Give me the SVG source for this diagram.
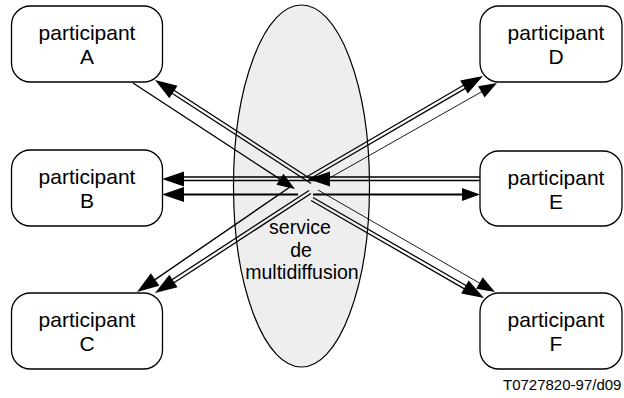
<svg xmlns="http://www.w3.org/2000/svg" xmlns:xlink="http://www.w3.org/1999/xlink" width="624" height="398" viewBox="0 0 624 398">
<style>
.box{fill:#fff;stroke:#000;stroke-width:1.3}
.lbl{font-family:"Liberation Sans",Arial,sans-serif;font-size:21px;fill:#000;text-anchor:middle}
.svc{font-family:"Liberation Sans",Arial,sans-serif;font-size:19.5px;fill:#000;text-anchor:middle}
.dbl{stroke:#000;stroke-width:1.3;fill:none}
.sgl{stroke:#000;stroke-width:1.4;fill:none}
.thk{stroke:#000;stroke-width:1.9;fill:none}
.thn{stroke:#000;stroke-width:0.9;fill:none}
</style>
<defs>
<path id="ah" d="M0,0 L-22,-7.5 L-22,7.5 Z" fill="#000"/>
<path id="ahs" d="M0,0 L-18,-6.5 L-18,6.5 Z" fill="#000"/>
</defs>
<rect width="624" height="398" fill="#fff"/>
<g id="service">
<ellipse cx="301.5" cy="186" rx="68" ry="181" fill="#eeeeee" stroke="#000" stroke-width="1.2"/>
<text class="svc" x="300" y="234">service</text>
<text class="svc" x="301" y="257">de</text>
<text class="svc" x="302" y="279">multidiffusion</text>
</g>
<g id="connectors">
<line class="dbl" x1="312.98" y1="180.49" x2="168.58" y2="86.69"/>
<line class="dbl" x1="311.02" y1="183.51" x2="166.62" y2="89.71"/>
<line class="dbl" x1="311.1" y1="200.56" x2="470.1" y2="292.08"/>
<line class="dbl" x1="312.9" y1="197.44" x2="471.9" y2="288.96"/>
<line class="dbl" x1="309.02" y1="190.49" x2="166.59" y2="283.3"/>
<line class="dbl" x1="310.98" y1="193.51" x2="168.55" y2="286.32"/>
<line class="dbl" x1="308.91" y1="179.56" x2="470.95" y2="85.11"/>
<line class="dbl" x1="307.09" y1="176.44" x2="469.13" y2="82"/>
<line class="dbl" x1="178" y1="177" x2="480" y2="177"/>
<line class="dbl" x1="178" y1="180.5" x2="480" y2="180.5"/>
<line class="sgl" x1="133" y1="83" x2="283" y2="181.2"/>
<line class="sgl" x1="290" y1="187" x2="148.5" y2="284.1"/>
<line class="thn" x1="326" y1="180" x2="484" y2="90.4"/>
<line class="thn" x1="318" y1="190" x2="482" y2="284.5"/>
<line class="thk" x1="298" y1="194.5" x2="175" y2="194.5"/>
<line class="thk" x1="313" y1="194.5" x2="468" y2="194.5"/>
<use xlink:href="#ah" transform="translate(155,80) rotate(213)"/>
<use xlink:href="#ahs" transform="translate(295,189) rotate(33)"/>
<use xlink:href="#ah" transform="translate(162,179) rotate(180)"/>
<use xlink:href="#ah" transform="translate(162,194.5) rotate(180)"/>
<use xlink:href="#ah" transform="translate(308,179) rotate(180)"/>
<use xlink:href="#ahs" transform="translate(480,194.5)"/>
<use xlink:href="#ah" transform="translate(137,292) rotate(145.5)"/>
<use xlink:href="#ah" transform="translate(155,293) rotate(146.9)"/>
<use xlink:href="#ah" transform="translate(483,76) rotate(-30.2)"/>
<use xlink:href="#ahs" transform="translate(497,83) rotate(-29.6)"/>
<use xlink:href="#ah" transform="translate(484,298) rotate(29.9)"/>
<use xlink:href="#ahs" transform="translate(495,292) rotate(30)"/>
</g>
<g id="participantA">
<rect class="box" x="11.5" y="6" width="151" height="76" rx="19"/>
<text class="lbl" x="87" y="40">participant</text>
<text class="lbl" x="87" y="64">A</text>
</g>
<g id="participantB">
<rect class="box" x="11.5" y="150" width="151" height="76" rx="19"/>
<text class="lbl" x="87" y="184">participant</text>
<text class="lbl" x="87" y="208">B</text>
</g>
<g id="participantC">
<rect class="box" x="11.5" y="293" width="151" height="76" rx="19"/>
<text class="lbl" x="87" y="327">participant</text>
<text class="lbl" x="87" y="351">C</text>
</g>
<g id="participantD">
<rect class="box" x="480" y="6" width="142" height="76" rx="19"/>
<text class="lbl" x="556" y="40">participant</text>
<text class="lbl" x="556" y="64">D</text>
</g>
<g id="participantE">
<rect class="box" x="480" y="151" width="142" height="75" rx="19"/>
<text class="lbl" x="556" y="185">participant</text>
<text class="lbl" x="556" y="209">E</text>
</g>
<g id="participantF">
<rect class="box" x="480" y="293" width="142" height="76" rx="19"/>
<text class="lbl" x="556" y="327">participant</text>
<text class="lbl" x="556" y="351">F</text>
</g>
<text x="503" y="390" font-family="'Liberation Sans',Arial,sans-serif" font-size="15" fill="#000">T0727820-97/d09</text>
</svg>
